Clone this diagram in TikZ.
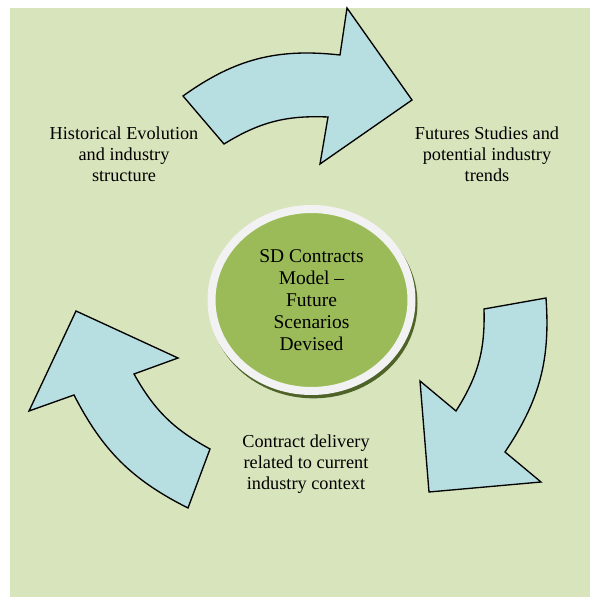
\documentclass[tikz,border=0pt]{standalone}
\usepackage{fontspec}
\setmainfont{Liberation Serif}
\usetikzlibrary{shapes}
\usetikzlibrary{shadows}
\usetikzlibrary{positioning}
\definecolor{bggreen}{HTML}{D8E4BC}
\definecolor{arrowblue}{HTML}{B7DEE0}
\definecolor{ballgreen}{HTML}{9BBB59}
\definecolor{ringwhite}{HTML}{F2F2F2}
\definecolor{shadowgreen}{HTML}{4F6228}
\tikzset{
    backdrop/.style = {fill=bggreen, draw=none},
    cyclearrow/.style = {line width=1pt, draw=black, fill=arrowblue, line join=miter},
    ball/.style = {ellipse, draw=ringwhite, line width=6pt, fill=ballgreen, align=center,
        minimum width=150pt, minimum height=136.5pt, inner sep=0pt,
        font=\fontsize{14.6}{16.5}\selectfont,
        drop shadow={shadow xshift=1.5pt, shadow yshift=-2.5pt, fill=shadowgreen,
            draw=shadowgreen, line width=6pt, opacity=1}},
    stagetext/.style = {align=center, font=\fontsize{13.7}{15.75}\selectfont}
}

\begin{document}
\begin{tikzpicture}[x=0.75pt,y=0.75pt]
\useasboundingbox (0,0) rectangle (590,597);
\fill[backdrop] (10,0) rectangle (590,589);
%
\draw[cyclearrow] (183,501) to[bend left=21] (340,542) -- (347,589) -- (412,497)
    -- (320,433) -- (328,480) to[bend right=17] (224,453) -- cycle; % top
\draw[cyclearrow] (546,299) to[bend left=19] (505,145) -- (541,115) -- (429,105)
    -- (420,216) -- (456,186) to[bend right=17] (484,288) -- cycle; % right
\draw[cyclearrow] (188,89) to[bend left=18] (74,202) -- (29,186) -- (76,286)
    -- (178,239) -- (134,223) to[bend right=16] (210,148) -- cycle; % left
%
\node[ball] at (311.5,297) (model) {SD Contracts\\Model --\\Future\\Scenarios\\Devised};
\node[stagetext] at (124,443) (history) {Historical Evolution\\and industry\\structure};
\node[stagetext] at (487,443) (futures) {Futures Studies and\\potential industry\\trends};
\node[stagetext] at (306,133) (delivery) {Contract delivery\\related to current\\industry context};

\end{tikzpicture}
\end{document}
